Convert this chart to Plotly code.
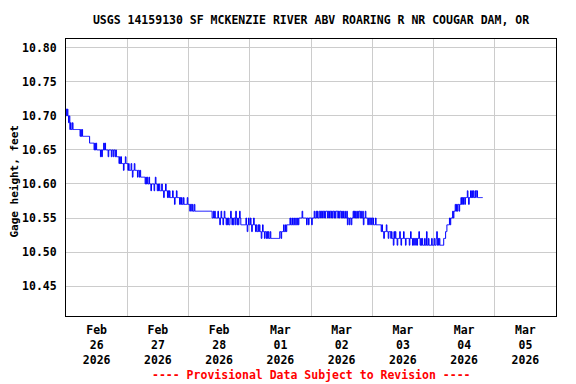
import pandas as pd
import plotly.graph_objects as go

# Gage height readings, 15-minute interval, in hundredths of a foot above 10.00 ft
feb26 = [71,70,71,70, 69,70,68,69, 68,68,69,68, 68,68,68,68, 68,68,68,68, 68,68,67,68,
         67,68,67,67, 67,67,67,67, 67,67,67,67, 67,66,66,66, 66,66,66,66, 65,66,65,66,
         65,65,65,65, 65,65,64,65, 64,65,65,66, 65,66,65,65, 65,65,64,65, 65,65,65,64,
         65,65,64,65, 65,64,65,64, 64,64,64,63, 64,63,64,63, 63,63,62,63, 63,64,63,63]
feb27 = [63,62,63,62, 62,62,63,62, 61,62,62,63, 62,62,62,62, 61,62,62,61, 62,61,61,61,
         61,61,61,61, 60,61,60,61, 60,60,61,60, 60,59,60,60, 60,60,59,60, 61,60,60,59,
         60,59,60,59, 59,59,60,59, 59,58,59,59, 60,59,59,58, 59,58,59,58, 58,58,58,59,
         58,58,57,58, 58,59,58,58, 58,58,57,58, 57,58,57,57, 58,57,57,57, 57,57,58,57]
feb28 = [57,57,56,57, 57,56,57,56, 56,57,56,56, 56,56,56,56, 56,56,56,56, 56,56,56,56,
         56,56,56,56, 56,56,56,56, 56,56,56,56, 56,55,55,56, 55,56,55,55, 55,55,56,55,
         55,54,55,56, 55,55,54,55, 56,55,55,54, 55,54,55,54, 54,55,56,55, 54,55,54,55,
         55,54,56,55, 54,55,54,55, 56,55,54,54, 54,54,54,54, 54,54,55,54, 53,54,55,54]
mar01 = [54,55,54,53, 54,54,55,54, 54,53,54,53, 53,54,53,54, 53,53,52,53, 54,53,53,52,
         53,53,52,53, 52,53,52,52, 53,52,52,52, 52,52,52,52, 52,52,52,52, 52,52,52,53,
         53,52,53,53, 53,54,53,53, 54,53,54,54, 54,54,54,55, 54,54,55,54, 54,55,54,54,
         55,54,54,55, 54,55,55,55, 55,55,56,55, 55,55,55,55, 55,54,55,55, 54,55,55,55]
mar02 = [55,54,55,55, 55,56,55,55, 56,55,56,55, 55,56,56,55, 56,55,56,56, 55,56,55,56,
         56,56,55,56, 55,56,56,55, 56,55,56,56, 55,56,55,56, 56,56,55,56, 55,56,56,55,
         56,55,56,55, 55,56,55,55, 56,54,55,55, 54,55,55,54, 55,55,56,55, 56,55,56,55,
         55,56,55,56, 56,55,56,55, 55,56,54,55, 55,56,55,55, 55,54,55,55, 54,55,55,54]
mar03 = [55,55,54,54, 54,55,54,54, 54,54,54,54, 54,54,53,54, 53,53,52,53, 53,53,54,53,
         53,52,53,53, 53,52,53,52, 52,51,53,52, 53,52,52,51, 52,52,52,53, 52,51,52,52,
         52,53,52,52, 51,52,52,52, 52,52,51,52, 53,52,52,51, 52,51,52,52, 51,52,51,52,
         52,53,52,51, 52,51,52,51, 51,51,52,51, 51,53,51,51, 52,51,51,51, 51,52,51,51]
mar04 = [51,52,51,51, 52,53,51,52, 51,52,51,51, 51,51,51,51, 52,52,52,53, 53,54,54,54,
         54,55,54,55, 55,55,56,55, 56,56,57,56, 57,56,57,57, 56,57,57,58, 57,58,57,58,
         58,57,58,58, 58,59,58,57, 58,58,59,58, 59,58,59,58, 58,59,58,59, 59,58,58,58,
         58,58,58,58, 58,58]

hundredths = feb26 + feb27 + feb28 + mar01 + mar02 + mar03 + mar04
gage_ft = [10 + v / 100 for v in hundredths]
times = pd.date_range("2026-02-26 00:00", periods=len(gage_ft), freq="15min")

y_ticks = [10.45, 10.50, 10.55, 10.60, 10.65, 10.70, 10.75, 10.80]
x_start, x_end = "2026-02-26", "2026-03-06"

title_text = "USGS 14159130 SF MCKENZIE RIVER ABV ROARING R NR COUGAR DAM, OR"
y_title = "Gage height, feet"
footer = "---- Provisional Data Subject to Revision ----"

FONT = "DejaVu Sans Mono"
fs = 11.5

# the page body adds an 8px offset; the figure is sized to fill the rest of the window
W, H = 568, 376

fig = go.Figure()
fig.add_trace(go.Scatter(x=times, y=gage_ft, mode="lines",
                         line=dict(color="#0000ff", width=1, shape="hv"),
                         hoverinfo="x+y", showlegend=False))

fig.update_layout(
    width=W, height=H,
    margin=dict(l=58, r=20, t=31, b=68),
    paper_bgcolor="white", plot_bgcolor="white",
    title=dict(text=title_text, x=0.5, xref="paper", y=1 - 12 / H, yanchor="middle",
               font=dict(family=FONT, size=fs, color="black", weight="bold")),
    xaxis=dict(range=[x_start, x_end], type="date", dtick=86400000, tick0=x_start,
               ticklabelmode="period", tickformat="%b<br>%d<br>%Y",
               showgrid=True, gridcolor="#cccccc", gridwidth=1,
               showline=True, linecolor="black", linewidth=1, mirror=True,
               ticks="", zeroline=False, ticklabelstandoff=3,
               tickfont=dict(family=FONT, size=fs, color="black", weight="bold")),
    yaxis=dict(range=[10.406, 10.813], tickvals=y_ticks, tickformat=".2f",
               showgrid=True, gridcolor="#cccccc", gridwidth=1,
               showline=True, linecolor="black", linewidth=1, mirror=True,
               ticks="", zeroline=False, ticklabelstandoff=6,
               tickfont=dict(family=FONT, size=fs, color="black", weight="bold")),
    annotations=[
        dict(text=y_title, xref="paper", yref="paper", x=(14.5 - 66) / 490, y=0.487,
             xanchor="center", yanchor="middle", textangle=-90, showarrow=False,
             font=dict(family=FONT, size=11, color="black", weight="bold")),
        dict(text=footer, xref="paper", yref="paper", x=0.5, y=(316 - 375) / 277,
             xanchor="center", yanchor="middle", showarrow=False,
             font=dict(family=FONT, size=fs, color="#ff0000", weight="bold")),
    ],
)

fig.write_html("out.html")
